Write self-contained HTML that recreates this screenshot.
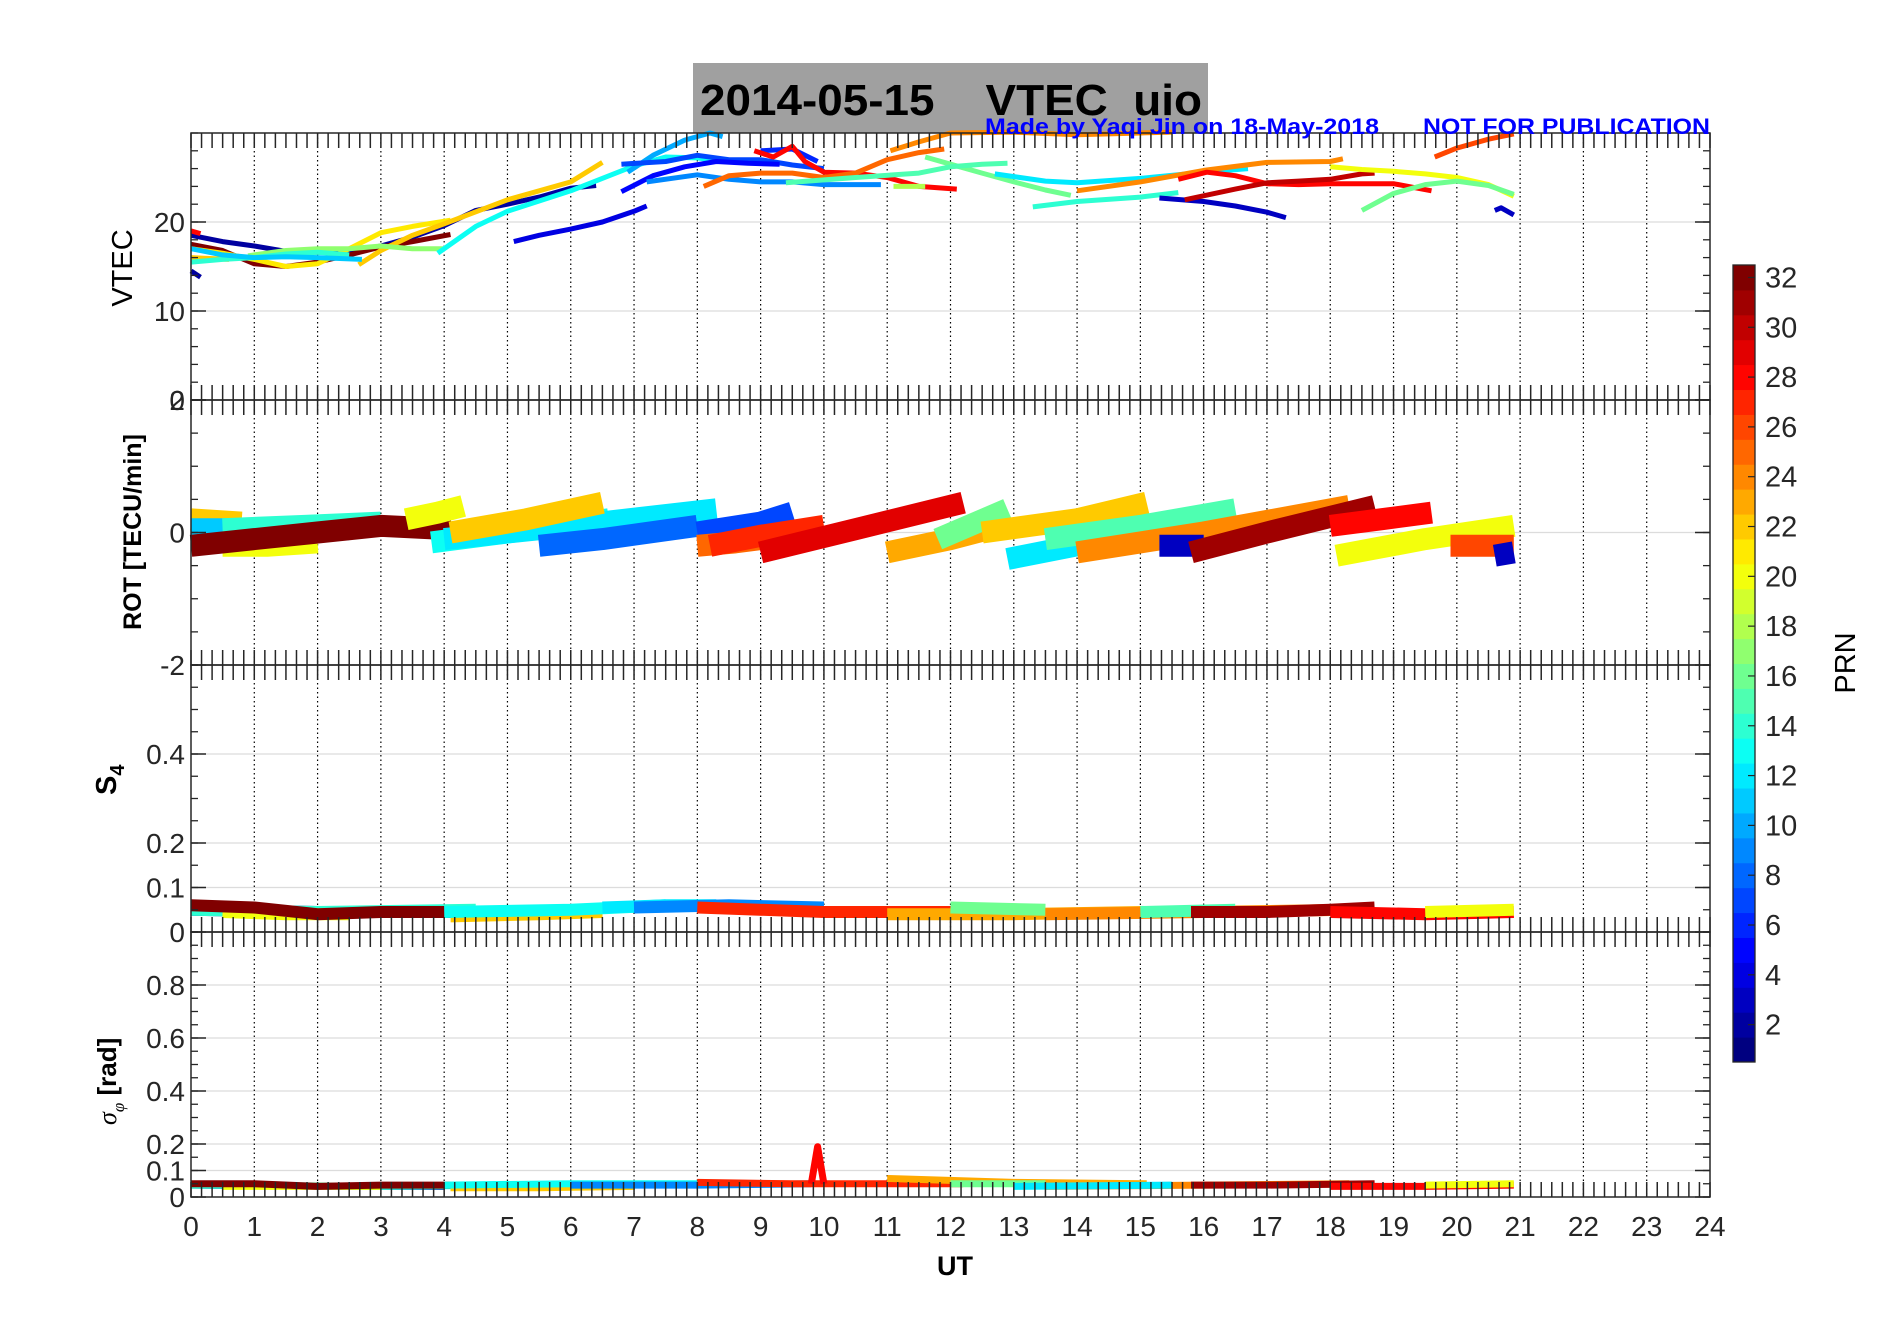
<!DOCTYPE html>
<html><head><meta charset="utf-8"><style>
html,body{margin:0;padding:0;background:#fff;}
svg{display:block;font-family:"Liberation Sans",Arial,sans-serif;}
</style></head><body>
<svg id="fig" width="1902" height="1330" viewBox="0 0 1902 1330" xmlns="http://www.w3.org/2000/svg">
<rect x="693" y="63" width="515" height="70" fill="#a0a0a0"/>
<text x="700" y="115" font-size="44" font-weight="bold" textLength="502" lengthAdjust="spacingAndGlyphs" xml:space="preserve">2014-05-15    VTEC  uio</text>
<g id="panels"></g>
<text x="985" y="134" font-size="22" font-weight="bold" fill="#0000ff" textLength="394" lengthAdjust="spacingAndGlyphs">Made by Yaqi Jin on 18-May-2018</text>
<text x="1423" y="134" font-size="22" font-weight="bold" fill="#0000ff" textLength="287" lengthAdjust="spacingAndGlyphs">NOT FOR PUBLICATION</text>
<text transform="translate(132,268) rotate(-90)" text-anchor="middle" font-size="29">VTEC</text>
<text transform="translate(141,532) rotate(-90)" text-anchor="middle" font-size="25" font-weight="bold">ROT [TECU/min]</text>
<text transform="translate(116,795) rotate(-90)" font-size="29" font-weight="bold">S<tspan font-size="20" dy="8">4</tspan></text>
<text transform="translate(116,1125) rotate(-90)" font-size="26" font-weight="bold"><tspan font-style="italic" font-weight="normal" font-family="Liberation Serif, serif">σ</tspan><tspan font-size="17" dy="8" font-style="italic" font-weight="normal" font-family="Liberation Serif, serif">φ</tspan><tspan dy="-8"> [rad]</tspan></text>
<text x="955" y="1275" text-anchor="middle" font-size="27" font-weight="bold">UT</text>
<g id="cbar"></g>
<text transform="translate(1855,663) rotate(-90)" text-anchor="middle" font-size="29">PRN</text>
</svg>
<script>
// ---------- data ----------
const xTickLabels = ["0","1","2","3","4","5","6","7","8","9","10","11","12","13","14","15","16","17","18","19","20","21","22","23","24"];
const vtecTicks = [0,10,20];
const rotTicks = [-2,0,2];
const s4Ticks = [0,0.1,0.2,0.4];
const sigTicks = [0,0.1,0.2,0.4,0.6,0.8];
const prnTicks = [2,4,6,8,10,12,14,16,18,20,22,24,26,28,30,32];

const vtecPrn = [2,2,32,21,22,22,17,14,11,13,4,10,7,5,9,6,28,25,24,18,16,15,12,24,14,3,28,30,20,16,26,3,28];
const vtecT = [
 [0,0.5,1,1.5,2,2.5,3,3.5,4,4.5,5,5.5,6,6.4],
 [0,0.15],
 [0,0.5,1,1.5,2,2.5,3,3.5,4.1],
 [0,0.5,1,1.5,2,2.5,3,3.5,4.1],
 [0,0.6],
 [2.65,3,3.5,4,5,6,6.5],
 [0.9,1.5,2,2.5,3,3.5,4],
 [0,0.5,1,1.5,2,2.5],
 [0,0.5,1,1.5,2,2.7],
 [3.9,4.5,5,6,7,7.5,8,8.4],
 [5.1,5.5,6,6.5,7,7.2],
 [6.9,7.3,7.8,8.2,8.4],
 [6.8,7.5,8,8.5,9,9.5,10],
 [6.8,7.3,7.8,8.3,8.8,9.3],
 [7.2,8,8.5,9,9.5,10,10.9],
 [9.0,9.5,9.9],
 [8.9,9.2,9.5,9.7,10,10.5,11,11.5,12.1],
 [8.1,8.5,9,9.5,10,10.5,11,11.5,11.9],
 [11.05,11.5,12,13,14,15,15.5],
 [11.1,11.6],
 [11.6,12,12.5,13,13.5,13.9],
 [9.4,10.5,11.5,12,12.5,12.9],
 [12.7,13.5,14,15,16,16.7],
 [14.0,15,16,17,18,18.2],
 [13.3,14,15,15.6],
 [15.3,16,16.5,17,17.3],
 [15.6,16.05,16.5,17,17.5,18,18.5,19,19.6],
 [15.7,16.5,17,17.5,18,18.5,18.7],
 [18.0,18.5,19,19.5,20,20.5,20.9],
 [18.5,19,19.5,20,20.5,20.9],
 [19.65,20,20.5,20.9],
 [20.6,20.7,20.9],
 [0,0.15]
];
const vtecV = [
 [18.5,17.8,17.3,16.7,16.6,16.6,17.3,18.3,19.6,21.3,22,22.8,23.8,24.1],
 [14.5,13.8],
 [17.5,16.8,15.3,15,15.5,16.3,17.2,17.8,18.6],
 [17,16.5,15.8,15,15.3,17,18.8,19.5,20.2],
 [16,15.8],
 [15.2,16.8,18.5,19.8,22.5,24.5,26.7],
 [16.2,16.8,17,17,17.3,17,17],
 [15.5,15.8,16,16.4,16.6,16.3],
 [17,16.3,16,16.1,16,15.8],
 [16.5,19.5,21.2,23.5,26.3,27.3,27.2,26.8],
 [17.8,18.5,19.2,20,21.2,21.8],
 [25.6,27.5,29.2,30,29.6],
 [26.5,26.8,27.5,27,27,26.4,26],
 [23.4,25.2,26.2,26.8,26.6,26.5],
 [24.5,25.3,24.8,24.5,24.5,24.2,24.2],
 [28,28.2,26.8],
 [28,27.3,28.5,26.8,25.6,25.5,25,24,23.7],
 [24,25.2,25.5,25.5,25,25.5,27,27.8,28.2],
 [28,29,30,30.1,29.8,30,30.1],
 [24,24],
 [27.3,26.5,25.5,24.5,23.6,23],
 [24.4,25,25.5,26.2,26.5,26.6],
 [25.4,24.6,24.4,24.9,25.6,26],
 [23.5,24.5,25.8,26.7,26.8,27.1],
 [21.7,22.3,22.8,23.3],
 [22.7,22.3,21.8,21.1,20.5],
 [24.8,25.6,25.2,24.3,24.2,24.3,24.3,24.3,23.5],
 [22.5,23.7,24.4,24.6,24.8,25.4,25.5],
 [26.2,25.9,25.7,25.4,25,24.2,22.9],
 [21.3,23.2,24.2,24.6,24.1,23.1],
 [27.3,28.3,29.3,29.9],
 [21.3,21.6,20.8],
 [19,18.7]
];

const rotPrn = [22,11,14,20,32,20,13,12,22,8,7,25,27,29,23,16,22,12,15,24,3,31,28,20,26,3];
const rotT = [
 [0,0.8],[0,1.2,2.5],[0.5,1.8,3],[0.5,1.2,2],[0,1,2,3,4.1],[3.4,3.9,4.3],
 [3.8,5,6.6],[4,6,8.3],[4.1,5.3,6.5],[5.5,6.5,8],[8,9,9.5],[8,8.6,9],
 [8.2,9,10],[9,10.5,12.2],[11,12,12.8],[11.8,12.9],[12.5,14,15.1],[12.9,14.5],
 [13.5,15,16.5],[14,16,18.3],[15.3,16],[15.8,17,18.7],[18,18.8,19.6],[18.1,19.5,20.9],[19.9,20.9],[20.6,20.9]
];
const rotV = [
 [0.2,0.15],[0.05,0.05,0.05],[0.05,0.1,0.15],[-0.2,-0.2,-0.15],[-0.2,-0.1,0,0.1,0.05],[0.2,0.3,0.4],
 [-0.15,0,0.2],[-0.1,0.1,0.35],[0,0.2,0.45],[-0.2,-0.1,0.1],[0,0.15,0.3],[-0.2,-0.15,-0.1],
 [-0.2,-0.05,0.1],[-0.3,0.05,0.45],[-0.3,-0.1,0.1],[-0.1,0.35],[0,0.2,0.45],[-0.4,-0.1],
 [-0.1,0.1,0.35],[-0.3,0,0.4],[-0.2,-0.2],[-0.3,0,0.4],[0.1,0.2,0.3],[-0.35,-0.1,0.1],[-0.2,-0.2],[-0.35,-0.3]
];

const s4Prn = [2,14,20,32,22,13,12,9,27,23,16,24,15,31,28,20];
const s4T = [[0,2,4],[0,2,4.5],[0.5,1.5,2.5],[0,1,2,3,4.1],[4.1,5.5,6.5],[4,6,7.5],[6.5,7.5,8.3],[7,8.5,10],[8,10,12.2],[11,13,15.1],[12,13.5],[13.5,16,18.3],[15,16.5],[15.8,17,18,18.7],[18,19.5,20.9],[19.5,20.9]];
const s4V = [[0.05,0.045,0.045],[0.05,0.045,0.05],[0.045,0.04,0.04],[0.06,0.055,0.04,0.045,0.045],[0.035,0.04,0.045],[0.045,0.05,0.06],[0.055,0.06,0.06],[0.055,0.06,0.055],[0.055,0.045,0.045],[0.04,0.04,0.045],[0.055,0.05],[0.04,0.045,0.05],[0.045,0.05],[0.045,0.045,0.05,0.055],[0.045,0.04,0.045],[0.045,0.05]];

const sigPrn = [2,14,20,32,22,13,9,27,23,16,24,12,31,28,20,28];
const sigT = [[0,2,4],[0,3,5],[0.5,2,3],[0,1,2,3,4.1],[4.1,5.5,7],[4,6,8],[6,8,9.8],[8,9.5,12.2],[11,13,15.1],[12,13.5],[13.5,16,18.3],[13,15.5],[15.8,17,18.7],[18,19.5,20.9],[19.5,20.9],[9.8,9.9,10]];
const sigV = [[0.045,0.04,0.04],[0.045,0.04,0.045],[0.04,0.04,0.04],[0.05,0.05,0.04,0.045,0.045],[0.035,0.035,0.04],[0.045,0.05,0.05],[0.045,0.045,0.05],[0.055,0.05,0.05],[0.07,0.055,0.05],[0.05,0.05],[0.04,0.045,0.05],[0.04,0.045],[0.045,0.045,0.05],[0.04,0.04,0.045],[0.045,0.05],[0.05,0.19,0.05]];

// ---------- layout ----------
const NS="http://www.w3.org/2000/svg";
const X0=191, X1=1710;
const xs = h => X0 + (X1-X0)*h/24;
const panelsSpec = [
 {name:"vtec", top:133, bot:400, min:0, max:30, ticks:vtecTicks, minor:2, prn:vtecPrn, T:vtecT, V:vtecV, sw:5},
 {name:"rot", top:400, bot:665, min:-2, max:2, ticks:rotTicks, minor:0.5, prn:rotPrn, T:rotT, V:rotV, sw:22},
 {name:"s4", top:665, bot:932, min:0, max:0.6, ticks:s4Ticks, minor:0.05, prn:s4Prn, T:s4T, V:s4V, sw:12},
 {name:"sigma", top:932, bot:1197, min:0, max:1, ticks:sigTicks, minor:0.05, prn:sigPrn, T:sigT, V:sigV, sw:7}
];
function jet(p){
  const t=(p-1)/31;
  const r=Math.min(1,Math.max(0,Math.min(4*t-1.5,-4*t+4.5)));
  const g=Math.min(1,Math.max(0,Math.min(4*t-0.5,-4*t+3.5)));
  const b=Math.min(1,Math.max(0,Math.min(4*t+0.5,-4*t+2.5)));
  return `rgb(${Math.round(r*255)},${Math.round(g*255)},${Math.round(b*255)})`;
}
function mk(tag,attrs,parent){const e=document.createElementNS(NS,tag);for(const k in attrs)e.setAttribute(k,attrs[k]);parent.appendChild(e);return e;}
const root=document.getElementById('panels');

panelsSpec.forEach(P=>{
  const g=mk('g',{},root);
  
  
  const ys=v=>P.bot-(P.bot-P.top)*(v-P.min)/(P.max-P.min);
  P.ticks.forEach(v=>{ if(v!==P.min&&v!==P.max){const l=mk('line',{x1:X0,x2:X1,y1:ys(v),y2:ys(v),stroke:'#dcdcdc','stroke-width':1.3},g);
    
    }});
  for(let h=1;h<24;h++){const l=mk('line',{x1:xs(h),x2:xs(h),y1:P.top,y2:P.bot,stroke:'#000','stroke-width':1.2,'stroke-dasharray':'1.5,3'},g);
    
    }
  P.prn.forEach((prn,i)=>{
    const pts=P.T[i].map((t,j)=>xs(t).toFixed(1)+','+ys(P.V[i][j]).toFixed(1)).join(' ');
    const pl=mk('polyline',{points:pts,fill:'none',stroke:jet(prn),'stroke-width':P.sw,'stroke-linejoin':'round','stroke-linecap':'butt'},g);
    
    
  });
  const box=mk('rect',{x:X0,y:P.top,width:X1-X0,height:P.bot-P.top,fill:'none',stroke:'#262626','stroke-width':1.5},g);
  
  
  for(let k=0;k<=144;k++){const x=xs(k/6);
    mk('line',{x1:x,x2:x,y1:P.top,y2:P.top+15,stroke:'#262626','stroke-width':1.5},g);
    mk('line',{x1:x,x2:x,y1:P.bot,y2:P.bot-15,stroke:'#262626','stroke-width':1.5},g);}
  for(let v=P.min;v<=P.max+1e-9;v+=P.minor){const y=ys(v);
    mk('line',{x1:X0,x2:X0+7,y1:y,y2:y,stroke:'#262626','stroke-width':1.3},g);
    mk('line',{x1:X1,x2:X1-7,y1:y,y2:y,stroke:'#262626','stroke-width':1.3},g);}
  P.ticks.forEach(v=>{const y=ys(v);
    mk('line',{x1:X0,x2:X0+15,y1:y,y2:y,stroke:'#262626','stroke-width':1.5},g);
    mk('line',{x1:X1,x2:X1-15,y1:y,y2:y,stroke:'#262626','stroke-width':1.5},g);
    const t=mk('text',{x:X0-6,y:y+10,'text-anchor':'end','font-size':28,fill:'#262626'},g);
    t.textContent=String(v);
    
    
  });
});
xTickLabels.forEach((s,i)=>{
  const t=mk('text',{x:xs(i),y:1236,'text-anchor':'middle','font-size':28,fill:'#262626'},root);
  t.textContent=s;
  
  
});
const cb=document.getElementById('cbar');
const CT=265, CB=1062, CX=1733, CW=22;
for(let p=1;p<=32;p++){
  const y0=CB-(CB-CT)*(p)/32, y1=CB-(CB-CT)*(p-1)/32;
  const r=mk('rect',{x:CX,y:y0,width:CW,height:y1-y0+0.5,fill:jet(p)},cb);
  
  
}
mk('rect',{x:CX,y:CT,width:CW,height:CB-CT,fill:'none',stroke:'#262626','stroke-width':1.3},cb);
prnTicks.forEach(v=>{
  const y=CB-(CB-CT)*(v-0.5)/32;
  mk('line',{x1:CX+CW-7,x2:CX+CW,y1:y,y2:y,stroke:'#262626','stroke-width':1.2},cb);
  const t=mk('text',{x:1765,y:y+10,'font-size':29,fill:'#262626'},cb);
  t.textContent=String(v);
  
  
});
</script>
</body></html>
